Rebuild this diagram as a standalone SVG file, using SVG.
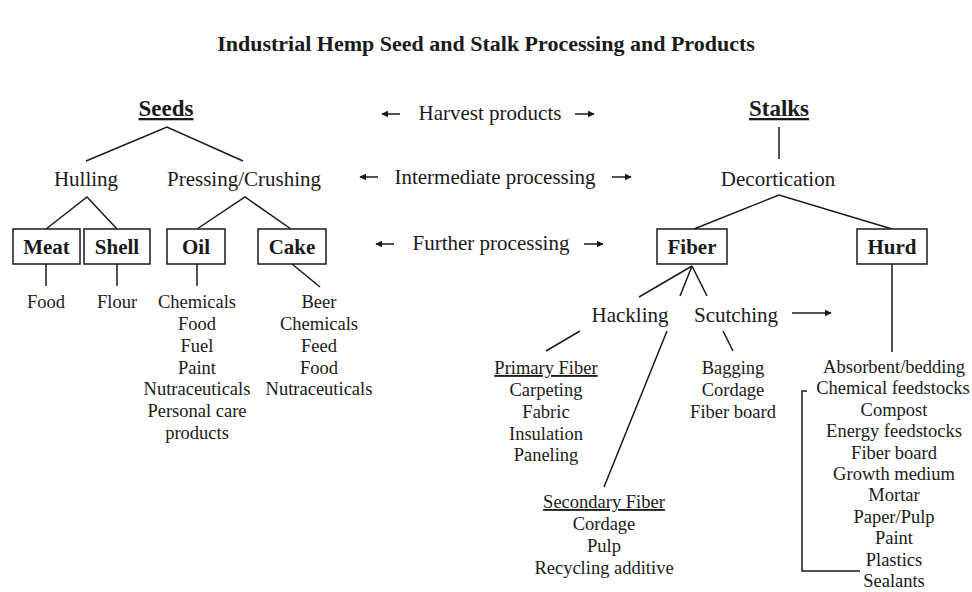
<svg xmlns="http://www.w3.org/2000/svg" width="972" height="592" viewBox="0 0 972 592">
<defs>
<marker id="ah" viewBox="0 0 10 10" refX="9" refY="5" markerWidth="7" markerHeight="7" markerUnits="userSpaceOnUse" orient="auto">
<path d="M0,0 L10,5 L0,10 z" fill="#1a1a1a"/>
</marker>
<style>
text{font-family:"Liberation Serif","Times New Roman",serif;fill:#1a1a1a;text-anchor:middle}
.t{font-size:22px;font-weight:bold}
.h{font-size:23px;font-weight:bold;text-decoration:underline}
.p{font-size:21px}
.b{font-size:21px;font-weight:bold}
.i{font-size:18.5px}
.u{text-decoration:underline}
rect{fill:#fff;stroke:#1a1a1a;stroke-width:1.5}
.c line,.c path{stroke:#1a1a1a;stroke-width:1.5;fill:none}
.a{marker-end:url(#ah)}
</style>
</defs>
<rect x="0" y="0" width="972" height="592" style="fill:#fff;stroke:none"/>
<text id="title" class="t" x="486" y="51">Industrial Hemp Seed and Stalk Processing and Products</text>

<g class="c" id="connectors">
<path d="M86,161 L167,127 L243,161"/>
<path d="M46,229 L87,197 L117,229"/>
<path d="M197,229 L245,197 L291,229"/>
<line x1="46" y1="264" x2="46" y2="286"/>
<line x1="117" y1="264" x2="117" y2="286"/>
<line x1="197" y1="264" x2="197" y2="286"/>
<line x1="292" y1="264" x2="320" y2="287"/>
<line x1="779" y1="127" x2="779" y2="159"/>
<path d="M694,229 L779,195 L892,229"/>
<line x1="892" y1="264" x2="892" y2="352"/>
<line x1="692" y1="266" x2="639" y2="297"/>
<line x1="692" y1="266" x2="680" y2="296"/>
<line x1="692" y1="266" x2="707" y2="296"/>
<line x1="580" y1="331" x2="546" y2="351"/>
<line x1="667" y1="331" x2="604" y2="487"/>
<line x1="723" y1="331" x2="733" y2="351"/>
<path d="M807,391 L802,391 L802,571 L860,571"/>
<line class="a" x1="400" y1="114" x2="382" y2="114"/>
<line class="a" x1="575" y1="114" x2="594" y2="114"/>
<line class="a" x1="378" y1="177" x2="360" y2="177"/>
<line class="a" x1="612" y1="177" x2="631" y2="177"/>
<line class="a" x1="394" y1="244" x2="376" y2="244"/>
<line class="a" x1="584" y1="244" x2="603" y2="244"/>
<line class="a" x1="792" y1="313" x2="831" y2="313"/>
</g>

<g id="seeds"><text class="h" x="166" y="116">Seeds</text></g>
<g id="stalks"><text class="h" x="779" y="116">Stalks</text></g>

<g id="harvest"><text class="p" x="490" y="120">Harvest products</text></g>
<g id="intermediate"><text class="p" x="495" y="184">Intermediate processing</text></g>
<g id="further"><text class="p" x="491" y="250">Further processing</text></g>

<g id="hulling"><text class="p" x="86" y="186">Hulling</text></g>
<g id="pressing"><text class="p" x="244" y="186">Pressing/Crushing</text></g>
<g id="decortication"><text class="p" x="778" y="186">Decortication</text></g>

<g id="meat"><rect x="13" y="229" width="67" height="35"/><text class="b" x="46.5" y="254">Meat</text></g>
<g id="shell"><rect x="84" y="229" width="66" height="35"/><text class="b" x="117" y="254">Shell</text></g>
<g id="oil"><rect x="167" y="229" width="58" height="35"/><text class="b" x="196" y="254">Oil</text></g>
<g id="cake"><rect x="258" y="229" width="68" height="35"/><text class="b" x="292" y="254">Cake</text></g>
<g id="fiber"><rect x="657" y="229" width="70" height="35"/><text class="b" x="692" y="254">Fiber</text></g>
<g id="hurd"><rect x="857" y="229" width="70" height="35"/><text class="b" x="892" y="254">Hurd</text></g>

<g id="meat-products"><text class="i" x="46" y="308">Food</text></g>
<g id="shell-products"><text class="i" x="117" y="308">Flour</text></g>
<g id="oil-products">
<text class="i" x="197" y="308">Chemicals</text>
<text class="i" x="197" y="330">Food</text>
<text class="i" x="197" y="352">Fuel</text>
<text class="i" x="197" y="374">Paint</text>
<text class="i" x="197" y="395">Nutraceuticals</text>
<text class="i" x="197" y="417">Personal care</text>
<text class="i" x="197" y="439">products</text>
</g>
<g id="cake-products">
<text class="i" x="319" y="308">Beer</text>
<text class="i" x="319" y="330">Chemicals</text>
<text class="i" x="319" y="352">Feed</text>
<text class="i" x="319" y="374">Food</text>
<text class="i" x="319" y="395">Nutraceuticals</text>
</g>

<g id="hackling"><text class="p" x="630" y="322">Hackling</text></g>
<g id="scutching"><text class="p" x="736" y="322">Scutching</text></g>

<g id="primary-fiber">
<text class="i u" x="546" y="374">Primary Fiber</text>
<text class="i" x="546" y="396">Carpeting</text>
<text class="i" x="546" y="418">Fabric</text>
<text class="i" x="546" y="440">Insulation</text>
<text class="i" x="546" y="461">Paneling</text>
</g>
<g id="secondary-fiber">
<text class="i u" x="604" y="508">Secondary Fiber</text>
<text class="i" x="604" y="530">Cordage</text>
<text class="i" x="604" y="552">Pulp</text>
<text class="i" x="604" y="574">Recycling additive</text>
</g>
<g id="scutching-products">
<text class="i" x="733" y="374">Bagging</text>
<text class="i" x="733" y="396">Cordage</text>
<text class="i" x="733" y="418">Fiber board</text>
</g>
<g id="hurd-products">
<text class="i" x="894" y="373">Absorbent/bedding</text>
<text class="i" x="893" y="394.4">Chemical feedstocks</text>
<text class="i" x="894" y="415.8">Compost</text>
<text class="i" x="894" y="437.2">Energy feedstocks</text>
<text class="i" x="894" y="458.6">Fiber board</text>
<text class="i" x="894" y="480">Growth medium</text>
<text class="i" x="894" y="501.4">Mortar</text>
<text class="i" x="894" y="522.8">Paper/Pulp</text>
<text class="i" x="894" y="544.2">Paint</text>
<text class="i" x="894" y="565.6">Plastics</text>
<text class="i" x="894" y="587">Sealants</text>
</g>
</svg>
